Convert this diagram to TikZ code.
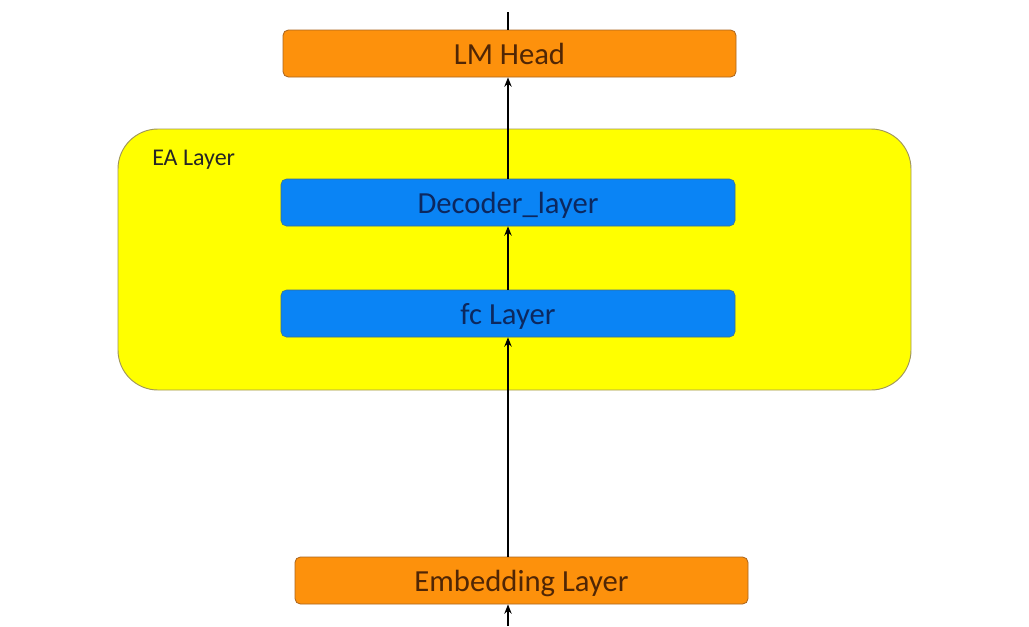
\documentclass[tikz,border=0pt]{standalone}
\usepackage{fontspec}
\setmainfont{Carlito}
\usetikzlibrary{arrows.meta}
\definecolor{orfill}{RGB}{253,145,12}
\definecolor{ordraw}{RGB}{170,100,30}
\definecolor{ortext}{RGB}{80,38,5}
\definecolor{blfill}{RGB}{10,132,245}
\definecolor{bldraw}{RGB}{60,110,140}
\definecolor{bltext}{RGB}{12,40,95}
\definecolor{yefill}{RGB}{255,255,0}
\definecolor{yedraw}{RGB}{160,150,90}
\tikzset{
  orbox/.style={draw=ordraw, line width=0.6pt, fill=orfill, rounded corners=4pt,
    minimum width=339.75pt, minimum height=35.25pt, inner sep=0pt,
    text height=16pt, text depth=0pt,
    text=ortext, font=\fontsize{23}{26}\selectfont},
  blbox/.style={draw=bldraw, line width=0.4pt, fill=blfill, rounded corners=4pt,
    minimum width=340.5pt, minimum height=35.25pt, inner sep=0pt,
    text height=16pt, text depth=0pt,
    text=bltext, font=\fontsize{23}{26}\selectfont},
  eabox/.style={draw=yedraw, line width=0.7pt, fill=yefill, rounded corners=30pt,
    minimum width=594.75pt, minimum height=195.75pt, inner sep=0pt},
  flow/.style={line width=1.5pt, draw=black},
  flowarr/.style={flow, -{Stealth[length=7pt,width=5.5pt]}}
}
\begin{document}
\begin{tikzpicture}[x=0.75pt,y=-0.75pt]
\useasboundingbox (0,0) rectangle (1029,626);
\fill[white] (0,0) rectangle (1029,626);
\node[eabox] (ea) at (514.5,259.5) {};
\node[anchor=west, inner sep=0pt, text=black!85, font=\fontsize{18}{20}\selectfont] (ealabel) at (152,160) {EA Layer};
\node[orbox] (lm) at (509.5,53.5) {LM Head};
\node[blbox] (dec) at (508,202.5) {Decoder\_layer};
\node[blbox] (fc) at (508,313.5) {fc Layer};
\node[orbox] (emb) at (521.5,580.5) {Embedding Layer};
\coordinate (top) at (508,12);
\coordinate (bot) at (508,626);
\draw[flow] (top) -- (top |- lm.north);
\draw[flowarr] (dec.north) -- (dec.north |- lm.south);
\draw[flowarr] (fc.north) -- (dec.south);
\draw[flowarr] (fc.south |- emb.north) -- (fc.south);
\draw[flowarr] (bot) -- (bot |- emb.south);
\end{tikzpicture}
\end{document}
